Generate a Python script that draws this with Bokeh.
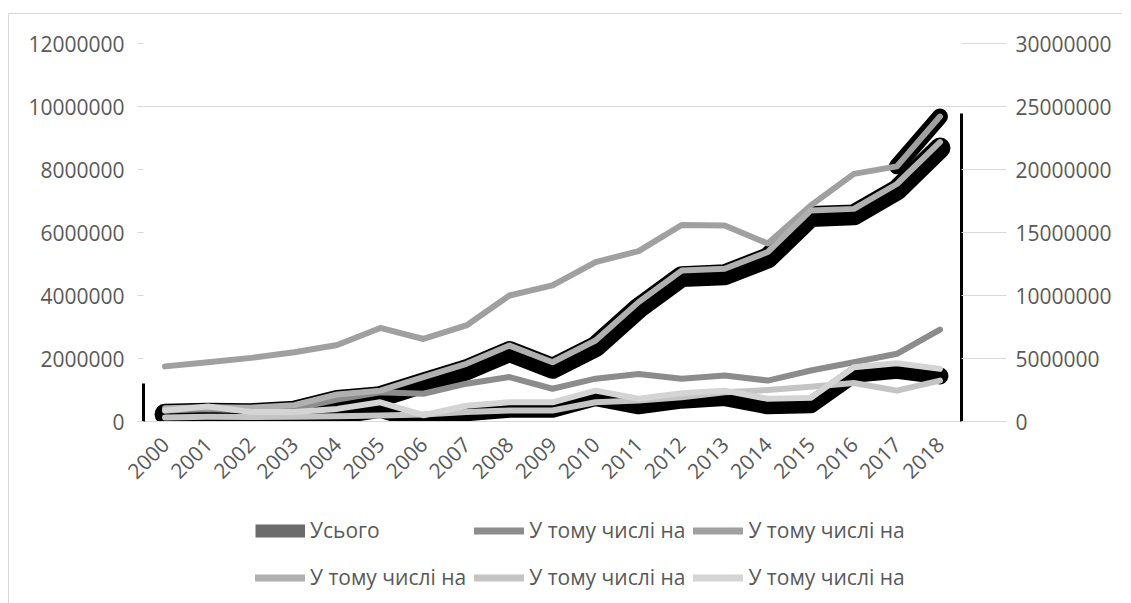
from math import pi
from bokeh.plotting import figure
from bokeh.layouts import column
from bokeh.models import (Range1d, FactorRange, LinearAxis, FixedTicker, NumeralTickFormatter,
                          Legend, LegendItem, ColumnDataSource, InlineStyleSheet)
from bokeh.embed import file_html
from bokeh.resources import INLINE

# ---------------- data ----------------
years = [str(y) for y in range(2000, 2019)]
names = ["Усього", "У тому числі на", "У тому числі на", "У тому числі на",
         "У тому числі на", "У тому числі на"]

s2 = [0.35e6, 0.40e6, 0.35e6, 0.40e6, 0.70e6, 0.93e6, 0.88e6, 1.20e6, 1.41e6, 1.04e6,
      1.36e6, 1.51e6, 1.36e6, 1.46e6, 1.30e6, 1.62e6, 1.88e6, 2.15e6, 2.92e6]
s3 = [1.75e6, 1.88e6, 2.02e6, 2.20e6, 2.43e6, 2.97e6, 2.62e6, 3.05e6, 4.00e6, 4.32e6,
      5.06e6, 5.41e6, 6.24e6, 6.22e6, 5.65e6, 6.86e6, 7.86e6, 8.10e6, 9.68e6]
s4 = [0.42e6, 0.45e6, 0.44e6, 0.52e6, 0.86e6, 0.98e6, 1.41e6, 1.83e6, 2.41e6, 1.88e6,
      2.57e6, 3.79e6, 4.79e6, 4.85e6, 5.38e6, 6.70e6, 6.75e6, 7.54e6, 8.87e6]
s5 = [0.13e6, 0.15e6, 0.14e6, 0.15e6, 0.17e6, 0.19e6, 0.22e6, 0.30e6, 0.35e6, 0.35e6,
      0.61e6, 0.67e6, 0.77e6, 0.93e6, 1.00e6, 1.10e6, 1.22e6, 0.98e6, 1.30e6]
s6 = [0.35e6, 0.48e6, 0.30e6, 0.30e6, 0.40e6, 0.61e6, 0.20e6, 0.50e6, 0.61e6, 0.61e6,
      0.98e6, 0.72e6, 0.90e6, 0.98e6, 0.72e6, 0.75e6, 1.72e6, 1.85e6, 1.67e6]
# Усього (secondary axis) = sum of the parts
total = [a + b + c + d + e for a, b, c, d, e in zip(s2, s3, s4, s5, s6)]

left_ticks = [0, 2e6, 4e6, 6e6, 8e6, 10e6, 12e6]
right_ticks = [0, 5e6, 10e6, 15e6, 20e6, 25e6, 30e6]
grid_ticks = [10e6, 12e6]

# ---------------- style ----------------
FONT = "Open Sans"
FS = "21px"
TXT = "#595959"
GRID = "#d9d9d9"
TOT_COLOR = "#6b6b6b"
colors = {"s2": "#8c8c8c", "s3": "#a0a0a0", "s4": "#b0b0b0", "s5": "#c4c4c4", "s6": "#d4d4d4"}

W = 1131
H1, H2 = 508, 95
BL, BR, BT, BB = 143, 170, 43, 87
FH = H1 - BT - BB

def shifted(px):
    dd = px / FH * left_ticks[-1]
    return Range1d(left_ticks[0] + dd, left_ticks[-1] + dd)

p = figure(width=W, height=H1, x_range=FactorRange(*years),
           y_range=Range1d(left_ticks[0], left_ticks[-1]),
           output_backend="svg", toolbar_location=None,
           min_border_left=BL, min_border_right=BR, min_border_top=BT, min_border_bottom=BB,
           y_axis_location=None)
p.extra_y_ranges = {"right": Range1d(right_ticks[0], right_ticks[-1]),
                    "shadow_a": shifted(6), "shadow_b": shifted(7)}
p.outline_line_color = None
p.xgrid.visible = False
p.ygrid.ticker = FixedTicker(ticks=grid_ticks)
p.ygrid.grid_line_color = GRID
p.ygrid.grid_line_width = 1

def edge_axis(rname, top):
    return LinearAxis(y_range_name=rname, bounds=(0, top), ticker=FixedTicker(ticks=[]),
                      axis_line_color="black", axis_line_width=3,
                      major_tick_out=0, major_tick_in=0, minor_tick_out=0, minor_tick_in=0,
                      major_label_standoff=0)

def label_axis(rname, ticks, tick_len, standoff):
    ax = LinearAxis(ticker=FixedTicker(ticks=ticks), formatter=NumeralTickFormatter(format="0"),
                    axis_line_color=None, major_tick_out=tick_len, major_tick_in=0,
                    major_tick_line_color=GRID, minor_tick_line_color=None,
                    major_label_standoff=standoff)
    if rname:
        ax.y_range_name = rname
    ax.major_label_text_font = FONT
    ax.major_label_text_font_size = FS
    ax.major_label_text_color = TXT
    return ax

p.add_layout(edge_axis("right", total[0]), "left")
p.add_layout(label_axis(None, left_ticks, 6, 13), "left")
p.add_layout(edge_axis("right", total[-1]), "right")
p.add_layout(label_axis("right", right_ticks, 45, 9), "right")

xa = p.xaxis[0]
xa.major_label_orientation = pi / 4
xa.major_tick_line_color = None
xa.minor_tick_line_color = None
xa.axis_line_color = GRID
xa.major_label_standoff = 13
xa.major_label_text_font = FONT
xa.major_label_text_font_size = FS
xa.major_label_text_color = TXT

# black shadows
p.line(years, s4, y_range_name="shadow_a", line_color="black", line_width=21,
       line_join="round", line_cap="round")
p.line(years, s6, y_range_name="shadow_b", line_color="black", line_width=17,
       line_join="round", line_cap="round")
tail = ColumnDataSource(dict(x=years[-2:], y=s3[-2:]))
p.line("x", "y", source=tail, line_color="black", line_width=16,
       line_join="round", line_cap="round")

# series lines
for key, vals in (("s2", s2), ("s3", s3), ("s4", s4), ("s5", s5), ("s6", s6)):
    p.line(years, vals, line_color=colors[key], line_width=6,
           line_join="round", line_cap="round")

# ---------------- legend strip ----------------
pl = figure(width=W, height=H2, x_range=Range1d(0, 1), y_range=Range1d(0, 1),
            output_backend="svg", toolbar_location=None,
            x_axis_location=None, y_axis_location=None,
            min_border_left=0, min_border_right=0, min_border_top=0, min_border_bottom=0)
pl.outline_line_color = None
pl.grid.visible = False

nan = float("nan")
sw = ColumnDataSource(dict(x=[nan], y=[nan]))
swatches = [pl.line("x", "y", source=sw, line_color=TOT_COLOR, line_width=13, line_cap="butt")]
for key in ("s2", "s3", "s4", "s5", "s6"):
    swatches.append(pl.line("x", "y", source=sw, line_color=colors[key], line_width=7,
                            line_cap="round"))

items = [LegendItem(label=n, renderers=[r]) for n, r in zip(names, swatches)]
legend = Legend(items=items, location=(112, 6.5), orientation="horizontal", nrows=2,
                glyph_width=50, glyph_height=39, label_height=39, label_standoff=5,
                spacing=8, padding=0, margin=0, border_line_color=None,
                background_fill_alpha=0, label_text_font=FONT, label_text_font_size=FS,
                label_text_color=TXT)
pl.add_layout(legend, "center")

frame_css = InlineStyleSheet(css="""
:host { position: relative; }
:host::after {
  content: ""; position: absolute; left: 8px; top: 13px; width: 1114px; height: 590px;
  border-left: 1px solid #d9d9d9; border-top: 1px solid #d9d9d9;
  pointer-events: none; box-sizing: border-box;
}
""")

layout = column(p, pl, spacing=0, stylesheets=[frame_css])
open("out.html", "w").write(file_html(layout, INLINE))
